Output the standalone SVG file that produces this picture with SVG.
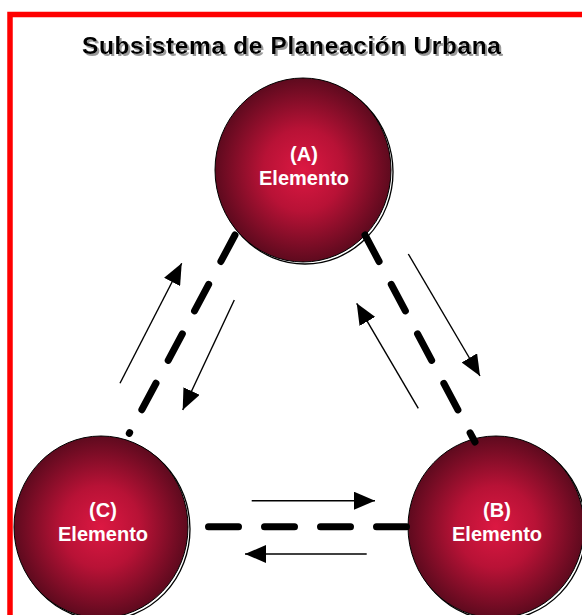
<svg xmlns="http://www.w3.org/2000/svg" width="582" height="615" viewBox="0 0 582 615">
  <defs>
    <radialGradient id="ballGrad" cx="50%" cy="50%" r="50%">
      <stop offset="0%" stop-color="#dc1842"/>
      <stop offset="45%" stop-color="#b81236"/>
      <stop offset="100%" stop-color="#5e0a1e"/>
    </radialGradient>
    <filter id="textShadow" x="-5%" y="-30%" width="110%" height="160%">
      <feOffset in="SourceAlpha" dx="2" dy="2" result="off"/>
      <feFlood flood-color="#9a9a9a"/>
      <feComposite in2="off" operator="in" result="shadow"/>
      <feMerge>
        <feMergeNode in="shadow"/>
        <feMergeNode in="SourceGraphic"/>
      </feMerge>
    </filter>
    <marker id="arrowHead" markerUnits="userSpaceOnUse" markerWidth="21" markerHeight="18" refX="21" refY="9" orient="auto">
      <path d="M0,0 L21,9 L0,18 z" fill="#000"/>
    </marker>
  </defs>
  <style>
    .frame { fill: none; stroke: #ff0000; stroke-width: 5.5; }
    .title { font-family: "Liberation Sans", Arial, sans-serif; font-weight: bold; font-size: 24.5px; fill: #000; filter: url(#textShadow); }
    .ballShadow { fill: #ffffff; stroke: #000; stroke-width: 1.3; }
    .ball { fill: url(#ballGrad); stroke: #000; stroke-width: 1; }
    .label { font-family: "Liberation Sans", Arial, sans-serif; font-weight: bold; font-size: 20px; fill: #ffffff; text-anchor: middle; }
    .dash { fill: none; stroke: #000; stroke-width: 7; stroke-linecap: round; stroke-dasharray: 30 26; }
    .arrow { fill: none; stroke: #000; stroke-width: 1.4; marker-end: url(#arrowHead); }
  </style>

  <rect width="582" height="615" fill="#ffffff"/>
  <rect class="frame" x="10" y="14.5" width="620" height="640"/>

  <g id="title">
    <text class="title" x="291.5" y="54" text-anchor="middle" textLength="419" lengthAdjust="spacing">Subsistema de Planeación Urbana</text>
  </g>

  <g id="node-A">
    <ellipse class="ballShadow" cx="305" cy="172" rx="88" ry="92"/>
    <ellipse class="ball" cx="303" cy="170" rx="88" ry="92"/>
    <text class="label" x="304" y="161">(A)</text>
    <text class="label" x="304" y="185">Elemento</text>
  </g>

  <g id="node-C">
    <ellipse class="ballShadow" cx="103" cy="529" rx="87" ry="91"/>
    <ellipse class="ball" cx="101" cy="527" rx="87" ry="91"/>
    <text class="label" x="103" y="517">(C)</text>
    <text class="label" x="103" y="541">Elemento</text>
  </g>

  <g id="node-B">
    <ellipse class="ballShadow" cx="498" cy="529" rx="88" ry="91"/>
    <ellipse class="ball" cx="496" cy="527" rx="88" ry="91"/>
    <text class="label" x="497" y="517">(B)</text>
    <text class="label" x="497" y="541">Elemento</text>
  </g>

  <g id="connectors">
    <line class="dash" x1="235" y1="235" x2="129.3" y2="433.3"/>
    <line class="dash" x1="365" y1="235" x2="475" y2="442"/>
    <line class="dash" x1="208.5" y1="526.7" x2="406.5" y2="526.7"/>

    <line class="arrow" x1="120" y1="383.3" x2="181.7" y2="263.3"/>
    <line class="arrow" x1="234.3" y1="300" x2="182.7" y2="410"/>
    <line class="arrow" x1="408.3" y1="254" x2="480" y2="376"/>
    <line class="arrow" x1="418.3" y1="408.3" x2="356.7" y2="303.3"/>
    <line class="arrow" x1="251.7" y1="500.7" x2="375" y2="500.7"/>
    <line class="arrow" x1="366.7" y1="554" x2="245" y2="554"/>
  </g>
</svg>
